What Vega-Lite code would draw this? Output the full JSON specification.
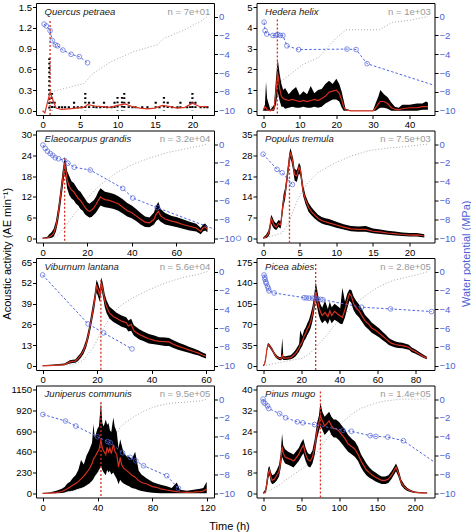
{
"$schema": "https://vega.github.io/schema/vega-lite/v6.json",
"padding": {"left": 0, "top": 1, "right": 0, "bottom": 0},
"config": {
 "font": "Liberation Sans",
 "view": {"stroke": "#000", "strokeWidth": 1},
 "axis": {"domain": false, "grid": false, "ticks": true, "tickColor": "#000", "tickSize": 3.5, "tickWidth": 1, "labelFont": "Liberation Sans", "labelFontSize": 9.5, "labelColor": "#000", "labelPadding": 1, "titleFont": "Liberation Sans", "titleFontSize": 11, "titleFontWeight": "normal", "titleColor": "#000", "labelFlush": false, "labelOverlap": false}
},
"datasets": {
 "meta": [
  {"p":"Q","name":"Quercus petraea","nl":"n = 7e+01","tpk":1.0,"ypk":1.3},
  {"p":"H","name":"Hedera helix","nl":"n = 1e+03","tpk":3.9,"ypk":4.4},
  {"p":"E","name":"Elaeocarpus grandis","nl":"n = 3.2e+04","tpk":9.9,"ypk":23},
  {"p":"PT","name":"Populus tremula","nl":"n = 7.5e+03","tpk":3.6,"ypk":27.5},
  {"p":"V","name":"Viburnum lantana","nl":"n = 5.6e+04","tpk":21.4,"ypk":54},
  {"p":"PA","name":"Picea abies","nl":"n = 2.8e+05","tpk":27.6,"ypk":172},
  {"p":"J","name":"Juniperus communis","nl":"n = 9.5e+05","tpk":42.5,"ypk":1013},
  {"p":"PM","name":"Pinus mugo","nl":"n = 1.4e+05","tpk":75.5,"ypk":39.3}
 ],
 "dots": [
  {"p":"Q","t":0.9,"hi":0.76},{"p":"Q","t":1.25,"hi":0.26},{"p":"Q","t":1.6,"hi":0.13},{"p":"Q","t":2.2,"hi":0.065},{"p":"Q","t":2.6,"hi":0.065},{"p":"Q","t":3.0,"hi":0.065},{"p":"Q","t":3.5,"hi":0.065},{"p":"Q","t":4.2,"hi":0.13},{"p":"Q","t":4.7,"hi":0.065},{"p":"Q","t":5.2,"hi":0.065},{"p":"Q","t":5.7,"hi":0.26},{"p":"Q","t":6.2,"hi":0.13},{"p":"Q","t":6.8,"hi":0.13},{"p":"Q","t":7.2,"hi":0.065},{"p":"Q","t":7.7,"hi":0.065},{"p":"Q","t":8.2,"hi":0.13},{"p":"Q","t":8.6,"hi":0.065},{"p":"Q","t":9.2,"hi":0.065},{"p":"Q","t":9.6,"hi":0.13},{"p":"Q","t":10.0,"hi":0.2},{"p":"Q","t":10.6,"hi":0.2},{"p":"Q","t":10.9,"hi":0.26},{"p":"Q","t":11.5,"hi":0.13},{"p":"Q","t":12.0,"hi":0.065},{"p":"Q","t":12.4,"hi":0.065},{"p":"Q","t":13.3,"hi":0.065},{"p":"Q","t":14.0,"hi":0.065},{"p":"Q","t":15.1,"hi":0.13},{"p":"Q","t":15.6,"hi":0.065},{"p":"Q","t":16.2,"hi":0.2},{"p":"Q","t":16.7,"hi":0.13},{"p":"Q","t":17.3,"hi":0.065},{"p":"Q","t":18.0,"hi":0.065},{"p":"Q","t":18.4,"hi":0.13},{"p":"Q","t":19.3,"hi":0.065},{"p":"Q","t":19.7,"hi":0.13},{"p":"Q","t":20.0,"hi":0.26},{"p":"Q","t":20.4,"hi":0.13},{"p":"Q","t":21.1,"hi":0.065},{"p":"Q","t":21.6,"hi":0.065},{"p":"Q","t":22.0,"hi":0.065}
 ],
 "act": [
  {"p":"Q","t":0,"m":0},{"p":"Q","t":0.3,"m":-0.03},{"p":"Q","t":0.6,"m":0.1},{"p":"Q","t":1,"m":0.27},{"p":"Q","t":1.4,"m":0.15},{"p":"Q","t":1.8,"m":0.04},{"p":"Q","t":2.5,"m":0.02},{"p":"Q","t":3.5,"m":0.03},{"p":"Q","t":4.5,"m":0.04},{"p":"Q","t":5.5,"m":0.05},{"p":"Q","t":6,"m":0.09},{"p":"Q","t":7,"m":0.07},{"p":"Q","t":8,"m":0.06},{"p":"Q","t":9,"m":0.05},{"p":"Q","t":10,"m":0.08},{"p":"Q","t":11,"m":0.1},{"p":"Q","t":12,"m":0.06},{"p":"Q","t":13,"m":0.04},{"p":"Q","t":14,"m":0.03},{"p":"Q","t":15,"m":0.04},{"p":"Q","t":16,"m":0.08},{"p":"Q","t":17,"m":0.06},{"p":"Q","t":18,"m":0.04},{"p":"Q","t":19,"m":0.05},{"p":"Q","t":20,"m":0.11},{"p":"Q","t":21,"m":0.06},{"p":"Q","t":22,"m":0.06},

  {"p":"H","t":0,"m":0,"lo":0,"hi":0.05},{"p":"H","t":0.5,"m":0.2,"lo":0,"hi":0.3},{"p":"H","t":0.8,"m":0.15,"lo":0,"hi":1.4},{"p":"H","t":1.1,"m":0.05,"lo":0,"hi":0.6},{"p":"H","t":2,"m":0,"lo":0,"hi":0.05},{"p":"H","t":3,"m":0.1,"lo":0,"hi":0.3},{"p":"H","t":3.5,"m":0.9,"lo":0.3,"hi":1.5},{"p":"H","t":4,"m":1.8,"lo":0.9,"hi":2.5},{"p":"H","t":4.5,"m":1.1,"lo":0.5,"hi":1.8},{"p":"H","t":5,"m":0.7,"lo":0.2,"hi":1.3},{"p":"H","t":5.5,"m":0.6,"lo":0.2,"hi":1.0},{"p":"H","t":6,"m":0.55,"lo":0.1,"hi":1.1},{"p":"H","t":7,"m":0.5,"lo":0.15,"hi":0.8},{"p":"H","t":8,"m":0.55,"lo":0.2,"hi":1.0},{"p":"H","t":9,"m":0.5,"lo":0.15,"hi":1.15},{"p":"H","t":10,"m":0.45,"lo":0.15,"hi":0.75},{"p":"H","t":11,"m":0.5,"lo":0.2,"hi":0.95},{"p":"H","t":12,"m":0.45,"lo":0.15,"hi":0.8},{"p":"H","t":13,"m":0.5,"lo":0.15,"hi":1.2},{"p":"H","t":14,"m":0.55,"lo":0.2,"hi":0.85},{"p":"H","t":15,"m":0.5,"lo":0.15,"hi":1.0},{"p":"H","t":16,"m":0.6,"lo":0.2,"hi":1.05},{"p":"H","t":17,"m":0.7,"lo":0.35,"hi":1.3},{"p":"H","t":18,"m":0.9,"lo":0.45,"hi":1.45},{"p":"H","t":19,"m":0.95,"lo":0.55,"hi":1.3},{"p":"H","t":20,"m":1.0,"lo":0.55,"hi":1.55},{"p":"H","t":20.8,"m":0.85,"lo":0.45,"hi":1.3},{"p":"H","t":21.5,"m":0.5,"lo":0.15,"hi":0.9},{"p":"H","t":22,"m":0.2,"lo":0,"hi":0.5},{"p":"H","t":22.5,"m":0.05,"lo":0,"hi":0.1},{"p":"H","t":24,"m":0,"lo":0,"hi":0.02},{"p":"H","t":30,"m":0,"lo":0,"hi":0.02},{"p":"H","t":30.8,"m":0.15,"lo":0,"hi":0.4},{"p":"H","t":31.5,"m":0.35,"lo":0.1,"hi":0.7},{"p":"H","t":32,"m":0.45,"lo":0.15,"hi":1.0},{"p":"H","t":33,"m":0.45,"lo":0.15,"hi":0.8},{"p":"H","t":34,"m":0.35,"lo":0.1,"hi":0.65},{"p":"H","t":35,"m":0.15,"lo":0,"hi":0.4},{"p":"H","t":36,"m":0.08,"lo":0,"hi":0.2},{"p":"H","t":37,"m":0.05,"lo":0,"hi":0.15},{"p":"H","t":38,"m":0.1,"lo":0,"hi":0.3},{"p":"H","t":40,"m":0.15,"lo":0,"hi":0.3},{"p":"H","t":42,"m":0.15,"lo":0,"hi":0.35},{"p":"H","t":43.5,"m":0.2,"lo":0.05,"hi":0.35},{"p":"H","t":44.5,"m":0.2,"lo":0.05,"hi":0.45},{"p":"H","t":45,"m":0.2,"lo":0.05,"hi":0.4},

  {"p":"E","t":0,"m":0,"lo":0,"hi":0.2},{"p":"E","t":2,"m":0.1,"lo":0,"hi":0.4},{"p":"E","t":3,"m":0.4,"lo":0,"hi":1.2},{"p":"E","t":4,"m":0.8,"lo":0.2,"hi":1.8},{"p":"E","t":5,"m":1.5,"lo":0.5,"hi":2.8},{"p":"E","t":6,"m":3.5,"lo":2,"hi":5},{"p":"E","t":7,"m":7,"lo":5,"hi":9},{"p":"E","t":8,"m":12,"lo":9.5,"hi":14},{"p":"E","t":9,"m":17,"lo":14.5,"hi":19.5},{"p":"E","t":9.9,"m":21.8,"lo":19,"hi":23.5},{"p":"E","t":10.5,"m":19.5,"lo":17,"hi":22},{"p":"E","t":11,"m":17,"lo":14.5,"hi":19.5},{"p":"E","t":12,"m":15,"lo":12.5,"hi":18},{"p":"E","t":13,"m":14,"lo":11.5,"hi":16.5},{"p":"E","t":14,"m":13.5,"lo":11,"hi":16},{"p":"E","t":15,"m":12.5,"lo":10,"hi":15},{"p":"E","t":16,"m":11.5,"lo":9.5,"hi":14},{"p":"E","t":17,"m":11,"lo":8.5,"hi":13.5},{"p":"E","t":18,"m":10,"lo":8,"hi":12.5},{"p":"E","t":19,"m":9,"lo":7,"hi":11.5},{"p":"E","t":20,"m":8.2,"lo":6.5,"hi":10.5},{"p":"E","t":21,"m":7.8,"lo":6,"hi":10},{"p":"E","t":22,"m":8.2,"lo":6.2,"hi":10.5},{"p":"E","t":23,"m":8.8,"lo":6.8,"hi":11},{"p":"E","t":24,"m":9.8,"lo":7.5,"hi":12},{"p":"E","t":25,"m":11,"lo":8.5,"hi":13.5},{"p":"E","t":26,"m":12,"lo":9.5,"hi":14.5},{"p":"E","t":27,"m":11.5,"lo":9.2,"hi":14},{"p":"E","t":28,"m":11.2,"lo":9,"hi":13.5},{"p":"E","t":30,"m":11,"lo":8.8,"hi":13.2},{"p":"E","t":32,"m":10.5,"lo":8.5,"hi":12.8},{"p":"E","t":34,"m":10,"lo":8,"hi":12.2},{"p":"E","t":36,"m":9,"lo":7.2,"hi":11.3},{"p":"E","t":38,"m":8,"lo":6.3,"hi":10.2},{"p":"E","t":40,"m":7.5,"lo":5.8,"hi":9.5},{"p":"E","t":42,"m":6.5,"lo":5,"hi":8.5},{"p":"E","t":44,"m":5.5,"lo":4,"hi":7.3},{"p":"E","t":46,"m":4.7,"lo":3.3,"hi":6.3},{"p":"E","t":48,"m":4.5,"lo":3.2,"hi":6},{"p":"E","t":50,"m":5.5,"lo":4,"hi":7.5},{"p":"E","t":51,"m":7,"lo":5,"hi":9.5},{"p":"E","t":52,"m":7.8,"lo":5.5,"hi":10.5},{"p":"E","t":53,"m":6.5,"lo":4.8,"hi":8.5},{"p":"E","t":55,"m":5.6,"lo":4,"hi":7.3},{"p":"E","t":58,"m":5,"lo":3.6,"hi":6.5},{"p":"E","t":60,"m":4.7,"lo":3.3,"hi":6.2},{"p":"E","t":63,"m":4,"lo":2.8,"hi":5.5},{"p":"E","t":66,"m":3.5,"lo":2.3,"hi":4.8},{"p":"E","t":69,"m":3,"lo":2,"hi":4.2},{"p":"E","t":71,"m":2,"lo":1.2,"hi":3},{"p":"E","t":72,"m":3,"lo":2,"hi":4},{"p":"E","t":73,"m":3.3,"lo":2.3,"hi":4.3},{"p":"E","t":74,"m":2.6,"lo":1.8,"hi":3.5},

  {"p":"PT","t":0,"m":0,"lo":0,"hi":0.3},{"p":"PT","t":0.4,"m":0.5,"lo":0,"hi":1.2},{"p":"PT","t":0.7,"m":1.5,"lo":0.5,"hi":2.5},{"p":"PT","t":0.9,"m":3,"lo":1.5,"hi":4.5},{"p":"PT","t":1.1,"m":7,"lo":5,"hi":8},{"p":"PT","t":1.3,"m":5.5,"lo":4,"hi":7},{"p":"PT","t":1.5,"m":4.5,"lo":3.2,"hi":5.8},{"p":"PT","t":1.8,"m":3.8,"lo":2.8,"hi":5},{"p":"PT","t":2.1,"m":5,"lo":3.8,"hi":6.2},{"p":"PT","t":2.4,"m":4.5,"lo":3.3,"hi":5.8},{"p":"PT","t":2.6,"m":9,"lo":7,"hi":11},{"p":"PT","t":2.8,"m":13,"lo":11,"hi":15},{"p":"PT","t":3.0,"m":15,"lo":13,"hi":17},{"p":"PT","t":3.2,"m":19,"lo":17,"hi":21},{"p":"PT","t":3.4,"m":23,"lo":21,"hi":25},{"p":"PT","t":3.6,"m":27,"lo":25,"hi":29},{"p":"PT","t":3.75,"m":29,"lo":27,"hi":30.5},{"p":"PT","t":3.9,"m":27.5,"lo":25.5,"hi":29},{"p":"PT","t":4.1,"m":25,"lo":23,"hi":27},{"p":"PT","t":4.3,"m":21.5,"lo":19.5,"hi":23.5},{"p":"PT","t":4.6,"m":21,"lo":19,"hi":23},{"p":"PT","t":4.9,"m":24,"lo":22,"hi":25.5},{"p":"PT","t":5.1,"m":23,"lo":21,"hi":24.5},{"p":"PT","t":5.3,"m":19,"lo":17,"hi":21},{"p":"PT","t":5.5,"m":15.5,"lo":14,"hi":17.5},{"p":"PT","t":5.8,"m":13,"lo":11.5,"hi":14.5},{"p":"PT","t":6.2,"m":10.5,"lo":9,"hi":12},{"p":"PT","t":6.6,"m":9,"lo":7.8,"hi":10.5},{"p":"PT","t":7.0,"m":8,"lo":6.8,"hi":9.3},{"p":"PT","t":7.5,"m":6.8,"lo":5.8,"hi":8},{"p":"PT","t":8.0,"m":6,"lo":5,"hi":7.2},{"p":"PT","t":8.5,"m":5.6,"lo":4.6,"hi":6.8},{"p":"PT","t":9,"m":5.2,"lo":4.3,"hi":6.5},{"p":"PT","t":10,"m":4.5,"lo":3.6,"hi":5.6},{"p":"PT","t":11,"m":3.8,"lo":3,"hi":4.8},{"p":"PT","t":12,"m":3.2,"lo":2.4,"hi":4.2},{"p":"PT","t":13,"m":3,"lo":2.2,"hi":4},{"p":"PT","t":14,"m":3,"lo":2.2,"hi":4.2},{"p":"PT","t":15,"m":2.4,"lo":1.7,"hi":3.3},{"p":"PT","t":16,"m":2.2,"lo":1.5,"hi":3},{"p":"PT","t":17,"m":1.8,"lo":1.2,"hi":2.6},{"p":"PT","t":18,"m":1.6,"lo":1,"hi":2.3},{"p":"PT","t":19,"m":1.3,"lo":0.8,"hi":2},{"p":"PT","t":20,"m":1.1,"lo":0.6,"hi":1.8},{"p":"PT","t":21,"m":1.2,"lo":0.6,"hi":1.8},{"p":"PT","t":22,"m":0.8,"lo":0.3,"hi":1.4},

  {"p":"V","t":0,"m":0,"lo":0,"hi":0.3},{"p":"V","t":4,"m":0.3,"lo":0,"hi":0.8},{"p":"V","t":8,"m":0.8,"lo":0.3,"hi":1.5},{"p":"V","t":10,"m":2.5,"lo":1.5,"hi":3.5},{"p":"V","t":11,"m":2.8,"lo":1.8,"hi":3.8},{"p":"V","t":12,"m":3,"lo":2,"hi":4},{"p":"V","t":13,"m":4.5,"lo":3,"hi":6},{"p":"V","t":14,"m":6.5,"lo":5,"hi":8},{"p":"V","t":15,"m":9.5,"lo":7.5,"hi":11.5},{"p":"V","t":16,"m":14,"lo":11.5,"hi":16.5},{"p":"V","t":17,"m":21,"lo":18,"hi":24},{"p":"V","t":18,"m":30,"lo":26.5,"hi":34},{"p":"V","t":19,"m":40,"lo":36,"hi":44},{"p":"V","t":19.8,"m":50,"lo":46,"hi":54},{"p":"V","t":20.3,"m":48,"lo":44,"hi":52},{"p":"V","t":21,"m":44,"lo":40,"hi":48},{"p":"V","t":21.6,"m":52,"lo":48,"hi":55.5},{"p":"V","t":22.2,"m":47,"lo":43,"hi":51},{"p":"V","t":22.8,"m":41,"lo":37,"hi":45},{"p":"V","t":23.5,"m":37,"lo":33,"hi":41},{"p":"V","t":24.6,"m":33,"lo":29.5,"hi":37},{"p":"V","t":26,"m":31,"lo":27.5,"hi":35},{"p":"V","t":27,"m":30,"lo":26.5,"hi":33.5},{"p":"V","t":29,"m":28,"lo":24.5,"hi":31.5},{"p":"V","t":30.7,"m":27,"lo":23.5,"hi":30.5},{"p":"V","t":31.5,"m":25,"lo":21.5,"hi":28.5},{"p":"V","t":32.5,"m":26,"lo":22,"hi":29.5},{"p":"V","t":33.5,"m":22,"lo":19,"hi":25.5},{"p":"V","t":35.5,"m":19.6,"lo":16.5,"hi":23},{"p":"V","t":37,"m":18.5,"lo":15.5,"hi":21.5},{"p":"V","t":39,"m":17,"lo":14,"hi":20},{"p":"V","t":41,"m":16,"lo":13.5,"hi":19},{"p":"V","t":42.8,"m":15.4,"lo":13,"hi":18},{"p":"V","t":45,"m":15.2,"lo":12.5,"hi":17.8},{"p":"V","t":46.4,"m":15,"lo":12.5,"hi":17.5},{"p":"V","t":48,"m":13.5,"lo":11.2,"hi":16},{"p":"V","t":50,"m":12.2,"lo":10,"hi":14.5},{"p":"V","t":52,"m":11,"lo":9,"hi":13.2},{"p":"V","t":53.7,"m":10,"lo":8.2,"hi":12},{"p":"V","t":55.5,"m":9,"lo":7.3,"hi":10.8},{"p":"V","t":57.3,"m":8,"lo":6.5,"hi":9.7},{"p":"V","t":58.5,"m":7,"lo":5.6,"hi":8.6},{"p":"V","t":60,"m":6,"lo":4.6,"hi":7.4},

  {"p":"PA","t":0,"m":0,"lo":0,"hi":1},{"p":"PA","t":0.8,"m":3,"lo":1,"hi":5},{"p":"PA","t":1.4,"m":13,"lo":10,"hi":16},{"p":"PA","t":2,"m":28,"lo":25,"hi":31},{"p":"PA","t":2.6,"m":36,"lo":33,"hi":38.5},{"p":"PA","t":3.2,"m":35,"lo":32,"hi":37.5},{"p":"PA","t":4,"m":31,"lo":28,"hi":34},{"p":"PA","t":5,"m":26,"lo":23,"hi":29},{"p":"PA","t":5.8,"m":21,"lo":18,"hi":24},{"p":"PA","t":6.6,"m":17,"lo":14,"hi":20},{"p":"PA","t":7.5,"m":14,"lo":11.5,"hi":17},{"p":"PA","t":8.5,"m":12.5,"lo":10,"hi":15},{"p":"PA","t":9.3,"m":12,"lo":9.5,"hi":15},{"p":"PA","t":10.1,"m":18,"lo":12,"hi":47},{"p":"PA","t":10.6,"m":13,"lo":10,"hi":16},{"p":"PA","t":11.9,"m":13,"lo":10,"hi":16},{"p":"PA","t":13,"m":13.5,"lo":10.5,"hi":17},{"p":"PA","t":14.5,"m":14,"lo":11,"hi":18},{"p":"PA","t":15.8,"m":17,"lo":13,"hi":22},{"p":"PA","t":17.1,"m":21,"lo":16,"hi":27},{"p":"PA","t":18.9,"m":30,"lo":24,"hi":37},{"p":"PA","t":19.5,"m":35,"lo":28,"hi":60},{"p":"PA","t":20.6,"m":41,"lo":34,"hi":50},{"p":"PA","t":21.5,"m":50,"lo":42,"hi":60},{"p":"PA","t":22.4,"m":55,"lo":46,"hi":65},{"p":"PA","t":23.2,"m":62,"lo":52,"hi":72},{"p":"PA","t":24.1,"m":67,"lo":57,"hi":78},{"p":"PA","t":25,"m":75,"lo":64,"hi":88},{"p":"PA","t":25.9,"m":87,"lo":75,"hi":100},{"p":"PA","t":26.8,"m":105,"lo":92,"hi":118},{"p":"PA","t":27.6,"m":125,"lo":110,"hi":141},{"p":"PA","t":28.3,"m":115,"lo":100,"hi":130},{"p":"PA","t":29.2,"m":100,"lo":86,"hi":113},{"p":"PA","t":30,"m":92,"lo":78,"hi":105},{"p":"PA","t":31,"m":85,"lo":72,"hi":98},{"p":"PA","t":32.5,"m":90,"lo":77,"hi":110},{"p":"PA","t":34,"m":83,"lo":70,"hi":96},{"p":"PA","t":35,"m":93,"lo":79,"hi":108},{"p":"PA","t":36,"m":85,"lo":72,"hi":99},{"p":"PA","t":37.5,"m":92,"lo":78,"hi":105},{"p":"PA","t":39,"m":88,"lo":75,"hi":101},{"p":"PA","t":40.5,"m":84,"lo":71,"hi":97},{"p":"PA","t":41.6,"m":82,"lo":70,"hi":132},{"p":"PA","t":43,"m":95,"lo":82,"hi":108},{"p":"PA","t":44.2,"m":110,"lo":97,"hi":122},{"p":"PA","t":45.3,"m":122,"lo":110,"hi":129},{"p":"PA","t":46.3,"m":118,"lo":106,"hi":128},{"p":"PA","t":47.5,"m":105,"lo":94,"hi":117},{"p":"PA","t":48.8,"m":98,"lo":87,"hi":110},{"p":"PA","t":50.3,"m":93,"lo":82,"hi":104},{"p":"PA","t":52,"m":84,"lo":74,"hi":95},{"p":"PA","t":53.5,"m":76,"lo":67,"hi":86},{"p":"PA","t":55.5,"m":70,"lo":61,"hi":79},{"p":"PA","t":57,"m":64,"lo":56,"hi":73},{"p":"PA","t":59,"m":60,"lo":52,"hi":68},{"p":"PA","t":61,"m":55,"lo":48,"hi":63},{"p":"PA","t":62.8,"m":50,"lo":43,"hi":57},{"p":"PA","t":64.3,"m":46,"lo":40,"hi":53},{"p":"PA","t":66,"m":41,"lo":35,"hi":47},{"p":"PA","t":67.5,"m":38,"lo":33,"hi":44},{"p":"PA","t":69.5,"m":36,"lo":31,"hi":41},{"p":"PA","t":71,"m":35,"lo":30,"hi":40},{"p":"PA","t":73,"m":34,"lo":29.5,"hi":39},{"p":"PA","t":74.8,"m":33,"lo":28.5,"hi":37.5},{"p":"PA","t":76.5,"m":31,"lo":27,"hi":35.5},{"p":"PA","t":78,"m":27,"lo":23,"hi":31},{"p":"PA","t":80,"m":24,"lo":20.5,"hi":27.5},{"p":"PA","t":82,"m":20,"lo":17,"hi":23.5},{"p":"PA","t":84,"m":16,"lo":13.5,"hi":19},{"p":"PA","t":86,"m":13,"lo":11,"hi":15.5},

  {"p":"J","t":0,"m":0,"lo":0,"hi":5},{"p":"J","t":5,"m":3,"lo":0,"hi":10},{"p":"J","t":10,"m":8,"lo":0,"hi":30},{"p":"J","t":14,"m":20,"lo":5,"hi":50},{"p":"J","t":16,"m":35,"lo":10,"hi":70},{"p":"J","t":18,"m":50,"lo":20,"hi":110},{"p":"J","t":20,"m":70,"lo":25,"hi":130},{"p":"J","t":22,"m":90,"lo":30,"hi":170},{"p":"J","t":24,"m":110,"lo":40,"hi":200},{"p":"J","t":26,"m":130,"lo":50,"hi":260},{"p":"J","t":28,"m":160,"lo":60,"hi":370},{"p":"J","t":30,"m":190,"lo":70,"hi":320},{"p":"J","t":32,"m":230,"lo":90,"hi":420},{"p":"J","t":34,"m":270,"lo":110,"hi":480},{"p":"J","t":36,"m":330,"lo":140,"hi":560},{"p":"J","t":37,"m":380,"lo":160,"hi":770},{"p":"J","t":38,"m":400,"lo":190,"hi":620},{"p":"J","t":40,"m":460,"lo":230,"hi":720},{"p":"J","t":41,"m":480,"lo":260,"hi":740},{"p":"J","t":42.5,"m":590,"lo":300,"hi":1010},{"p":"J","t":43.5,"m":500,"lo":260,"hi":780},{"p":"J","t":44.5,"m":470,"lo":230,"hi":740},{"p":"J","t":46,"m":430,"lo":200,"hi":820},{"p":"J","t":47,"m":510,"lo":260,"hi":760},{"p":"J","t":48,"m":460,"lo":230,"hi":780},{"p":"J","t":49,"m":500,"lo":250,"hi":700},{"p":"J","t":50,"m":440,"lo":210,"hi":680},{"p":"J","t":51.5,"m":540,"lo":230,"hi":840},{"p":"J","t":52.5,"m":470,"lo":200,"hi":740},{"p":"J","t":54,"m":430,"lo":160,"hi":680},{"p":"J","t":55.3,"m":290,"lo":100,"hi":500},{"p":"J","t":56.5,"m":400,"lo":150,"hi":600},{"p":"J","t":57.5,"m":320,"lo":130,"hi":540},{"p":"J","t":59,"m":280,"lo":110,"hi":450},{"p":"J","t":61.3,"m":252,"lo":90,"hi":410},{"p":"J","t":63,"m":230,"lo":80,"hi":410},{"p":"J","t":65,"m":200,"lo":60,"hi":380},{"p":"J","t":67.4,"m":180,"lo":50,"hi":460},{"p":"J","t":70,"m":141,"lo":35,"hi":250},{"p":"J","t":72,"m":120,"lo":25,"hi":210},{"p":"J","t":75.9,"m":104,"lo":15,"hi":165},{"p":"J","t":80,"m":75,"lo":8,"hi":125},{"p":"J","t":83,"m":67,"lo":5,"hi":110},{"p":"J","t":86,"m":50,"lo":0,"hi":95},{"p":"J","t":90.4,"m":37,"lo":0,"hi":80},{"p":"J","t":94,"m":28,"lo":0,"hi":60},{"p":"J","t":97.7,"m":18.5,"lo":0,"hi":120},{"p":"J","t":100,"m":15,"lo":0,"hi":40},{"p":"J","t":105,"m":11,"lo":0,"hi":30},{"p":"J","t":110,"m":13,"lo":0,"hi":40},{"p":"J","t":114.7,"m":18.5,"lo":0,"hi":50},{"p":"J","t":117,"m":25,"lo":0,"hi":60},{"p":"J","t":119.5,"m":48,"lo":0,"hi":130},

  {"p":"PM","t":0,"m":0,"lo":0,"hi":0.3},{"p":"PM","t":3,"m":0.5,"lo":0,"hi":1.5},{"p":"PM","t":5,"m":4,"lo":2,"hi":6},{"p":"PM","t":7,"m":8,"lo":6,"hi":10},{"p":"PM","t":8.5,"m":9,"lo":7,"hi":10.5},{"p":"PM","t":10,"m":6.5,"lo":4.5,"hi":8.5},{"p":"PM","t":12,"m":5,"lo":3.5,"hi":7},{"p":"PM","t":15,"m":5.5,"lo":4,"hi":7.5},{"p":"PM","t":18,"m":7,"lo":5,"hi":9},{"p":"PM","t":21,"m":8.5,"lo":6.5,"hi":11},{"p":"PM","t":23,"m":12,"lo":9.5,"hi":15},{"p":"PM","t":25,"m":18,"lo":14,"hi":23},{"p":"PM","t":26.5,"m":15.5,"lo":13,"hi":18.5},{"p":"PM","t":29,"m":14,"lo":11.5,"hi":17},{"p":"PM","t":33,"m":13.5,"lo":11,"hi":16},{"p":"PM","t":37,"m":13,"lo":10.5,"hi":15.5},{"p":"PM","t":40,"m":12.5,"lo":10,"hi":15},{"p":"PM","t":43,"m":13.5,"lo":11,"hi":16},{"p":"PM","t":47,"m":15,"lo":12.5,"hi":17.5},{"p":"PM","t":50,"m":17,"lo":14,"hi":19.5},{"p":"PM","t":53,"m":18.5,"lo":15.5,"hi":21},{"p":"PM","t":56,"m":15,"lo":12.5,"hi":17.5},{"p":"PM","t":59,"m":13,"lo":10.5,"hi":15.5},{"p":"PM","t":62,"m":12.5,"lo":10,"hi":15},{"p":"PM","t":65,"m":14,"lo":11.5,"hi":16.5},{"p":"PM","t":68,"m":18,"lo":15,"hi":21},{"p":"PM","t":71,"m":24,"lo":21,"hi":27},{"p":"PM","t":73.5,"m":27,"lo":24,"hi":30},{"p":"PM","t":75.5,"m":30,"lo":26,"hi":35},{"p":"PM","t":78,"m":28,"lo":24.5,"hi":31.5},{"p":"PM","t":81,"m":26,"lo":22.5,"hi":29.5},{"p":"PM","t":84,"m":27,"lo":23.5,"hi":30.5},{"p":"PM","t":87,"m":28,"lo":24.5,"hi":31.5},{"p":"PM","t":90,"m":26,"lo":22.5,"hi":29.5},{"p":"PM","t":93,"m":25,"lo":21.5,"hi":28.5},{"p":"PM","t":96,"m":25,"lo":21.5,"hi":28.5},{"p":"PM","t":100,"m":24,"lo":20.5,"hi":27.5},{"p":"PM","t":104,"m":22.5,"lo":19,"hi":26},{"p":"PM","t":108,"m":21,"lo":17.5,"hi":24.5},{"p":"PM","t":112,"m":19,"lo":16,"hi":22.5},{"p":"PM","t":117,"m":18,"lo":15,"hi":21},{"p":"PM","t":121,"m":17,"lo":14,"hi":20},{"p":"PM","t":125,"m":15,"lo":12.5,"hi":18},{"p":"PM","t":129,"m":12.5,"lo":10,"hi":15},{"p":"PM","t":132,"m":11,"lo":8.5,"hi":13.5},{"p":"PM","t":136,"m":9,"lo":7,"hi":11.5},{"p":"PM","t":140,"m":8,"lo":6,"hi":10},{"p":"PM","t":144,"m":7,"lo":5.3,"hi":8.8},{"p":"PM","t":148,"m":6.2,"lo":4.6,"hi":8},{"p":"PM","t":152,"m":5.6,"lo":4.1,"hi":7.2},{"p":"PM","t":156,"m":5,"lo":3.6,"hi":6.5},{"p":"PM","t":161,"m":5,"lo":3.6,"hi":6.5},{"p":"PM","t":165,"m":5.5,"lo":4,"hi":7},{"p":"PM","t":169,"m":7,"lo":5.5,"hi":8.5},{"p":"PM","t":172,"m":8.5,"lo":7,"hi":10},{"p":"PM","t":175,"m":10,"lo":8.5,"hi":11.5},{"p":"PM","t":178,"m":8,"lo":6.5,"hi":9.5},{"p":"PM","t":182,"m":4,"lo":3,"hi":5.2},{"p":"PM","t":186,"m":2.5,"lo":1.7,"hi":3.3},{"p":"PM","t":190,"m":1.5,"lo":0.9,"hi":2.1},{"p":"PM","t":195,"m":0.8,"lo":0.4,"hi":1.2},{"p":"PM","t":200,"m":0.4,"lo":0.1,"hi":0.7},{"p":"PM","t":208,"m":0.2,"lo":0,"hi":0.4},{"p":"PM","t":216,"m":0.1,"lo":0,"hi":0.3}
 ],
 "wp": [
  {"p":"Q","t":0.2,"wp":-0.8,"o":true},{"p":"Q","t":0.5,"wp":-1.0,"o":true},{"p":"Q","t":1.0,"wp":-1.5,"o":true},{"p":"Q","t":1.3,"wp":-2.55,"o":true},{"p":"Q","t":1.7,"wp":-3.0,"o":true},{"p":"Q","t":2.0,"wp":-3.1,"o":true},{"p":"Q","t":2.7,"wp":-3.55,"o":true},{"p":"Q","t":3.8,"wp":-4.0,"o":true},{"p":"Q","t":4.9,"wp":-4.25,"o":true},{"p":"Q","t":6.0,"wp":-4.9,"o":true},
  {"p":"H","t":0.27,"wp":-0.6,"o":true},{"p":"H","t":0.55,"wp":-1.5,"o":true},{"p":"H","t":1.0,"wp":-1.85,"o":true},{"p":"H","t":2.7,"wp":-2.0,"o":true},{"p":"H","t":3.5,"wp":-2.0,"o":true},{"p":"H","t":4.0,"wp":-1.9,"o":true},{"p":"H","t":4.7,"wp":-2.0,"o":true},{"p":"H","t":5.4,"wp":-2.0,"o":true},{"p":"H","t":6.5,"wp":-3.1,"o":true},{"p":"H","t":9.7,"wp":-3.5,"o":true},{"p":"H","t":22.9,"wp":-3.45,"o":true},{"p":"H","t":25.4,"wp":-3.5,"o":true},{"p":"H","t":28.4,"wp":-5.0,"o":true},{"p":"H","t":48,"wp":-7.45,"o":false},
  {"p":"E","t":0.15,"wp":-0.1,"o":true},{"p":"E","t":1.2,"wp":-0.47,"o":true},{"p":"E","t":2.2,"wp":-0.76,"o":true},{"p":"E","t":3.4,"wp":-1.0,"o":true},{"p":"E","t":4.6,"wp":-1.2,"o":true},{"p":"E","t":5.7,"wp":-1.45,"o":true},{"p":"E","t":7.2,"wp":-1.56,"o":true},{"p":"E","t":9.9,"wp":-1.74,"o":true},{"p":"E","t":11.4,"wp":-2.03,"o":true},{"p":"E","t":14.2,"wp":-2.46,"o":true},{"p":"E","t":21.4,"wp":-2.75,"o":true},{"p":"E","t":36,"wp":-4.7,"o":true},{"p":"E","t":40.5,"wp":-5.72,"o":true},{"p":"E","t":51.4,"wp":-6.74,"o":true},{"p":"E","t":88,"wp":-10,"o":true},
  {"p":"PT","t":0,"wp":-1.07,"o":true},{"p":"PT","t":1.9,"wp":-2.68,"o":true},{"p":"PT","t":2.6,"wp":-3.04,"o":true},{"p":"PT","t":4.0,"wp":-4.29,"o":true},
  {"p":"V","t":0,"wp":-0.36,"o":true},{"p":"V","t":16.7,"wp":-5.55,"o":true},{"p":"V","t":22.4,"wp":-6.5,"o":true},{"p":"V","t":32.8,"wp":-8.2,"o":true},
  {"p":"PA","t":0.5,"wp":-0.36,"o":true},{"p":"PA","t":0.9,"wp":-0.6,"o":true},{"p":"PA","t":1.0,"wp":-0.83,"o":true},{"p":"PA","t":1.4,"wp":-1.08,"o":true},{"p":"PA","t":1.7,"wp":-1.26,"o":true},{"p":"PA","t":2.3,"wp":-1.55,"o":true},{"p":"PA","t":2.8,"wp":-1.8,"o":true},{"p":"PA","t":3.1,"wp":-2.05,"o":true},{"p":"PA","t":5.8,"wp":-2.27,"o":true},{"p":"PA","t":21.5,"wp":-2.77,"o":true},{"p":"PA","t":22.7,"wp":-2.8,"o":true},{"p":"PA","t":24.1,"wp":-2.82,"o":true},{"p":"PA","t":25.9,"wp":-2.82,"o":true},{"p":"PA","t":27.2,"wp":-2.82,"o":true},{"p":"PA","t":28.5,"wp":-2.88,"o":true},{"p":"PA","t":30.2,"wp":-2.95,"o":true},{"p":"PA","t":31.4,"wp":-2.99,"o":true},{"p":"PA","t":51.7,"wp":-3.78,"o":true},{"p":"PA","t":66.9,"wp":-3.96,"o":true},{"p":"PA","t":88.4,"wp":-4.24,"o":true},
  {"p":"J","t":0.2,"wp":-1.63,"o":true},{"p":"J","t":16.7,"wp":-2.33,"o":true},{"p":"J","t":24.2,"wp":-2.86,"o":true},{"p":"J","t":40,"wp":-4.0,"o":true},{"p":"J","t":47.3,"wp":-4.5,"o":true},{"p":"J","t":49.2,"wp":-4.63,"o":true},{"p":"J","t":58.2,"wp":-5.69,"o":true},{"p":"J","t":63.8,"wp":-6.18,"o":true},{"p":"J","t":67.9,"wp":-6.54,"o":true},{"p":"J","t":73.5,"wp":-7.07,"o":true},{"p":"J","t":90.4,"wp":-8.13,"o":true},{"p":"J","t":98.9,"wp":-9.47,"o":true},
  {"p":"PM","t":0,"wp":0.0,"o":true},{"p":"PM","t":0.4,"wp":-0.29,"o":true},{"p":"PM","t":2.6,"wp":-0.47,"o":true},{"p":"PM","t":5.7,"wp":-0.72,"o":true},{"p":"PM","t":7.4,"wp":-1.0,"o":true},{"p":"PM","t":21.8,"wp":-1.55,"o":true},{"p":"PM","t":29.7,"wp":-1.98,"o":true},{"p":"PM","t":45,"wp":-2.41,"o":true},{"p":"PM","t":52.4,"wp":-2.52,"o":true},{"p":"PM","t":67.7,"wp":-2.7,"o":true},{"p":"PM","t":105.2,"wp":-3.31,"o":true},{"p":"PM","t":116.2,"wp":-3.42,"o":true},{"p":"PM","t":141,"wp":-3.88,"o":true},{"p":"PM","t":148.5,"wp":-3.96,"o":true},{"p":"PM","t":164.2,"wp":-4.03,"o":true},{"p":"PM","t":184.7,"wp":-4.42,"o":true},{"p":"PM","t":230,"wp":-6.93,"o":false}
 ],
 "cum": [
  {"p":"Q","t":0,"f":0},{"p":"Q","t":0.8,"f":0.02},{"p":"Q","t":1.1,"f":0.2},{"p":"Q","t":5.5,"f":0.29},{"p":"Q","t":6.8,"f":0.4},{"p":"Q","t":9.1,"f":0.52},{"p":"Q","t":12.2,"f":0.63},{"p":"Q","t":15.3,"f":0.7},{"p":"Q","t":16.2,"f":0.77},{"p":"Q","t":18.4,"f":0.84},{"p":"Q","t":19.3,"f":0.875},{"p":"Q","t":21.1,"f":0.95},{"p":"Q","t":22,"f":1.0},
  {"p":"H","t":0,"f":0},{"p":"H","t":1,"f":0.03},{"p":"H","t":3.3,"f":0.05},{"p":"H","t":4.5,"f":0.3},{"p":"H","t":10.8,"f":0.49},{"p":"H","t":15.3,"f":0.57},{"p":"H","t":19.9,"f":0.77},{"p":"H","t":22.6,"f":0.86},{"p":"H","t":31.8,"f":0.86},{"p":"H","t":35.4,"f":0.94},{"p":"H","t":40,"f":0.96},{"p":"H","t":45,"f":1.0},
  {"p":"E","t":0,"f":0},{"p":"E","t":5,"f":0.01},{"p":"E","t":7,"f":0.04},{"p":"E","t":10,"f":0.12},{"p":"E","t":13,"f":0.22},{"p":"E","t":15.4,"f":0.29},{"p":"E","t":21.4,"f":0.46},{"p":"E","t":26,"f":0.57},{"p":"E","t":33.4,"f":0.7},{"p":"E","t":41,"f":0.79},{"p":"E","t":48.4,"f":0.855},{"p":"E","t":56,"f":0.91},{"p":"E","t":63.4,"f":0.946},{"p":"E","t":71,"f":0.982},{"p":"E","t":74,"f":1.0},
  {"p":"PT","t":0,"f":0},{"p":"PT","t":1.5,"f":0.03},{"p":"PT","t":2.6,"f":0.06},{"p":"PT","t":3.5,"f":0.16},{"p":"PT","t":4.7,"f":0.41},{"p":"PT","t":5.9,"f":0.57},{"p":"PT","t":7.5,"f":0.7},{"p":"PT","t":9.8,"f":0.8},{"p":"PT","t":12.1,"f":0.875},{"p":"PT","t":14.4,"f":0.93},{"p":"PT","t":16.7,"f":0.955},{"p":"PT","t":19,"f":0.97},{"p":"PT","t":22.5,"f":1.0},
  {"p":"V","t":0,"f":0},{"p":"V","t":10,"f":0.01},{"p":"V","t":13,"f":0.03},{"p":"V","t":14.9,"f":0.06},{"p":"V","t":18.5,"f":0.19},{"p":"V","t":21,"f":0.33},{"p":"V","t":24.6,"f":0.51},{"p":"V","t":28.2,"f":0.63},{"p":"V","t":33,"f":0.72},{"p":"V","t":39.2,"f":0.81},{"p":"V","t":45.2,"f":0.88},{"p":"V","t":51.3,"f":0.936},{"p":"V","t":57.3,"f":0.972},{"p":"V","t":60.5,"f":1.0},
  {"p":"PA","t":0,"f":0},{"p":"PA","t":5,"f":0.02},{"p":"PA","t":10,"f":0.04},{"p":"PA","t":15,"f":0.06},{"p":"PA","t":20.6,"f":0.08},{"p":"PA","t":25,"f":0.14},{"p":"PA","t":29.3,"f":0.23},{"p":"PA","t":34,"f":0.34},{"p":"PA","t":38,"f":0.44},{"p":"PA","t":42,"f":0.54},{"p":"PA","t":46.8,"f":0.62},{"p":"PA","t":51,"f":0.7},{"p":"PA","t":55.5,"f":0.77},{"p":"PA","t":60,"f":0.83},{"p":"PA","t":64.3,"f":0.874},{"p":"PA","t":69,"f":0.91},{"p":"PA","t":73,"f":0.928},{"p":"PA","t":77,"f":0.95},{"p":"PA","t":81.7,"f":0.97},{"p":"PA","t":86.5,"f":1.0},
  {"p":"J","t":0,"f":0},{"p":"J","t":15,"f":0.01},{"p":"J","t":20,"f":0.02},{"p":"J","t":25,"f":0.04},{"p":"J","t":30,"f":0.07},{"p":"J","t":35,"f":0.12},{"p":"J","t":40,"f":0.22},{"p":"J","t":45,"f":0.35},{"p":"J","t":50,"f":0.5},{"p":"J","t":53,"f":0.6},{"p":"J","t":56.5,"f":0.7},{"p":"J","t":60,"f":0.75},{"p":"J","t":66.2,"f":0.81},{"p":"J","t":72,"f":0.86},{"p":"J","t":78.3,"f":0.9},{"p":"J","t":84,"f":0.93},{"p":"J","t":90.4,"f":0.947},{"p":"J","t":96,"f":0.96},{"p":"J","t":102.5,"f":0.965},{"p":"J","t":110,"f":0.975},{"p":"J","t":114.7,"f":0.98},{"p":"J","t":120,"f":1.0},
  {"p":"PM","t":0,"f":0},{"p":"PM","t":8,"f":0.03},{"p":"PM","t":20,"f":0.08},{"p":"PM","t":29.7,"f":0.14},{"p":"PM","t":40,"f":0.2},{"p":"PM","t":51.5,"f":0.26},{"p":"PM","t":60,"f":0.32},{"p":"PM","t":73.4,"f":0.46},{"p":"PM","t":85,"f":0.59},{"p":"PM","t":95.2,"f":0.68},{"p":"PM","t":105,"f":0.76},{"p":"PM","t":117,"f":0.84},{"p":"PM","t":128,"f":0.9},{"p":"PM","t":138.9,"f":0.93},{"p":"PM","t":150,"f":0.96},{"p":"PM","t":160.7,"f":0.98},{"p":"PM","t":172,"f":0.99},{"p":"PM","t":182.5,"f":1.0},{"p":"PM","t":216,"f":1.0}
 ]
},
"columns": 2,
"spacing": {"row": 15.5, "column": 42.5},
"bounds": "flush",
"concat": [
 {"width":178,"height":112,
  "layer":[
   {"data":{"name":"cum"},"transform":[{"filter":"datum.p=='Q'"}],"mark":{"type":"line","clip":true,"color":"#aaaaaa","strokeWidth":1,"strokeDash":[1,2]},"encoding":{"x":{"field":"t","type":"quantitative","scale":{"domain":[-0.88,22.88],"nice":false,"zero":false},"axis":{"values":[0,5,10,15,20],"title":null,"labelOverlap":false}},"y":{"field":"f","type":"quantitative","scale":{"domain":[-0.044,1.144],"nice":false,"zero":false},"axis":null}}},
   {"data":{"name":"dots"},"transform":[{"filter":"datum.p=='Q'"}],"mark":{"type":"rule","color":"#000","strokeWidth":2.2,"strokeDash":[1.8,2.6]},"encoding":{"x":{"field":"t","type":"quantitative","scale":{"domain":[-0.88,22.88],"nice":false,"zero":false}},"y":{"field":"hi","type":"quantitative","scale":{"domain":[-0.06,1.56],"nice":false,"zero":false},"axis":{"orient":"left","values":[0,0.3,0.6,0.9,1.2,1.5],"format":".1f","title":null,"labelOverlap":false}},"y2":{"datum":0}}},
   {"data":{"name":"act"},"transform":[{"filter":"datum.p=='Q'"}],"mark":{"type":"line","clip":true,"color":"#d7301f","strokeWidth":1.2},"encoding":{"x":{"field":"t","type":"quantitative","scale":{"domain":[-0.88,22.88],"nice":false,"zero":false}},"y":{"field":"m","type":"quantitative","scale":{"domain":[-0.06,1.56],"nice":false,"zero":false},"axis":null}}},
   {"data":{"name":"meta"},"transform":[{"filter":"datum.p=='Q'"}],"mark":{"type":"rule","color":"#d7301f","strokeWidth":1.3,"strokeDash":[2,2]},"encoding":{"x":{"field":"tpk","type":"quantitative","scale":{"domain":[-0.88,22.88],"nice":false,"zero":false}},"y":{"field":"ypk","type":"quantitative","scale":{"domain":[-0.06,1.56],"nice":false,"zero":false},"axis":null},"y2":{"datum":-0.06}}},
   {"data":{"name":"meta"},"transform":[{"filter":"datum.p=='Q'"}],"mark":{"type":"text","align":"left","baseline":"middle","fontStyle":"italic","color":"#1a1a1a","fontSize":9.5,"dx":2},"encoding":{"x":{"datum":0,"type":"quantitative","scale":{"domain":[-0.88,22.88],"nice":false,"zero":false}},"y":{"datum":1.43,"type":"quantitative","scale":{"domain":[-0.06,1.56],"nice":false,"zero":false},"axis":null},"text":{"field":"name","type":"nominal"}}},
   {"data":{"name":"meta"},"transform":[{"filter":"datum.p=='Q'"}],"mark":{"type":"text","align":"right","baseline":"middle","color":"#999999","fontSize":9.5,"dx":3},"encoding":{"x":{"datum":22,"type":"quantitative","scale":{"domain":[-0.88,22.88],"nice":false,"zero":false}},"y":{"datum":1.43,"type":"quantitative","scale":{"domain":[-0.06,1.56],"nice":false,"zero":false},"axis":null},"text":{"field":"nl","type":"nominal"}}},
   {"data":{"name":"wp"},"transform":[{"filter":"datum.p=='Q'"}],"mark":{"type":"line","clip":true,"color":"#5064dc","strokeWidth":1,"strokeDash":[2.5,2]},"encoding":{"x":{"field":"t","type":"quantitative","scale":{"domain":[-0.88,22.88],"nice":false,"zero":false}},"y":{"field":"wp","type":"quantitative","scale":{"domain":[-10.44,1.44],"nice":false,"zero":false},"axis":{"orient":"right","values":[-10,-8,-6,-4,-2,0],"labelColor":"#4b5fd6","title":null,"labelOverlap":false}}}},
   {"data":{"name":"wp"},"transform":[{"filter":"datum.p=='Q' && datum.o"}],"mark":{"type":"point","clip":false,"color":"#5064dc","filled":false,"size":22,"strokeWidth":1},"encoding":{"x":{"field":"t","type":"quantitative","scale":{"domain":[-0.88,22.88],"nice":false,"zero":false}},"y":{"field":"wp","type":"quantitative","scale":{"domain":[-10.44,1.44],"nice":false,"zero":false},"axis":null}}}
  ],
  "resolve":{"scale":{"y":"independent"}}
 },
 {"width":178,"height":112,
  "layer":[
   {"data":{"name":"cum"},"transform":[{"filter":"datum.p=='H'"}],"mark":{"type":"line","clip":true,"color":"#aaaaaa","strokeWidth":1,"strokeDash":[1,2]},"encoding":{"x":{"field":"t","type":"quantitative","scale":{"domain":[-1.8,46.8],"nice":false,"zero":false},"axis":{"values":[0,10,20,30,40],"title":null,"labelOverlap":false}},"y":{"field":"f","type":"quantitative","scale":{"domain":[-0.044,1.144],"nice":false,"zero":false},"axis":null}}},
   {"data":{"name":"act"},"transform":[{"filter":"datum.p=='H'"}],"mark":{"type":"area","clip":true,"color":"#000"},"encoding":{"x":{"field":"t","type":"quantitative","scale":{"domain":[-1.8,46.8],"nice":false,"zero":false}},"y":{"field":"lo","type":"quantitative","scale":{"domain":[-0.2,5.2],"nice":false,"zero":false},"axis":{"orient":"left","values":[0,1,2,3,4,5],"format":"d","title":null,"labelOverlap":false}},"y2":{"field":"hi"}}},
   {"data":{"name":"act"},"transform":[{"filter":"datum.p=='H'"}],"mark":{"type":"line","clip":true,"color":"#d7301f","strokeWidth":1.2},"encoding":{"x":{"field":"t","type":"quantitative","scale":{"domain":[-1.8,46.8],"nice":false,"zero":false}},"y":{"field":"m","type":"quantitative","scale":{"domain":[-0.2,5.2],"nice":false,"zero":false},"axis":null}}},
   {"data":{"name":"meta"},"transform":[{"filter":"datum.p=='H'"}],"mark":{"type":"rule","color":"#d7301f","strokeWidth":1.3,"strokeDash":[2,2]},"encoding":{"x":{"field":"tpk","type":"quantitative","scale":{"domain":[-1.8,46.8],"nice":false,"zero":false}},"y":{"field":"ypk","type":"quantitative","scale":{"domain":[-0.2,5.2],"nice":false,"zero":false},"axis":null},"y2":{"datum":-0.2}}},
   {"data":{"name":"meta"},"transform":[{"filter":"datum.p=='H'"}],"mark":{"type":"text","align":"left","baseline":"middle","fontStyle":"italic","color":"#1a1a1a","fontSize":9.5,"dx":2},"encoding":{"x":{"datum":0,"type":"quantitative","scale":{"domain":[-1.8,46.8],"nice":false,"zero":false}},"y":{"datum":4.77,"type":"quantitative","scale":{"domain":[-0.2,5.2],"nice":false,"zero":false},"axis":null},"text":{"field":"name","type":"nominal"}}},
   {"data":{"name":"meta"},"transform":[{"filter":"datum.p=='H'"}],"mark":{"type":"text","align":"right","baseline":"middle","color":"#999999","fontSize":9.5,"dx":3},"encoding":{"x":{"datum":45,"type":"quantitative","scale":{"domain":[-1.8,46.8],"nice":false,"zero":false}},"y":{"datum":4.77,"type":"quantitative","scale":{"domain":[-0.2,5.2],"nice":false,"zero":false},"axis":null},"text":{"field":"nl","type":"nominal"}}},
   {"data":{"name":"wp"},"transform":[{"filter":"datum.p=='H'"}],"mark":{"type":"line","clip":true,"color":"#5064dc","strokeWidth":1,"strokeDash":[2.5,2]},"encoding":{"x":{"field":"t","type":"quantitative","scale":{"domain":[-1.8,46.8],"nice":false,"zero":false}},"y":{"field":"wp","type":"quantitative","scale":{"domain":[-10.44,1.44],"nice":false,"zero":false},"axis":{"orient":"right","values":[-10,-8,-6,-4,-2,0],"labelColor":"#4b5fd6","title":null,"labelOverlap":false}}}},
   {"data":{"name":"wp"},"transform":[{"filter":"datum.p=='H' && datum.o"}],"mark":{"type":"point","clip":false,"color":"#5064dc","filled":false,"size":22,"strokeWidth":1},"encoding":{"x":{"field":"t","type":"quantitative","scale":{"domain":[-1.8,46.8],"nice":false,"zero":false}},"y":{"field":"wp","type":"quantitative","scale":{"domain":[-10.44,1.44],"nice":false,"zero":false},"axis":null}}}
  ],
  "resolve":{"scale":{"y":"independent"}}
 },
 {"width":178,"height":112,
  "layer":[
   {"data":{"name":"cum"},"transform":[{"filter":"datum.p=='E'"}],"mark":{"type":"line","clip":true,"color":"#aaaaaa","strokeWidth":1,"strokeDash":[1,2]},"encoding":{"x":{"field":"t","type":"quantitative","scale":{"domain":[-2.96,76.96],"nice":false,"zero":false},"axis":{"values":[0,20,40,60],"title":null,"labelOverlap":false}},"y":{"field":"f","type":"quantitative","scale":{"domain":[-0.044,1.144],"nice":false,"zero":false},"axis":null}}},
   {"data":{"name":"act"},"transform":[{"filter":"datum.p=='E'"}],"mark":{"type":"area","clip":true,"color":"#000"},"encoding":{"x":{"field":"t","type":"quantitative","scale":{"domain":[-2.96,76.96],"nice":false,"zero":false}},"y":{"field":"lo","type":"quantitative","scale":{"domain":[-1.2,31.2],"nice":false,"zero":false},"axis":{"orient":"left","values":[0,6,12,18,24,30],"format":"d","title":null,"labelOverlap":false}},"y2":{"field":"hi"}}},
   {"data":{"name":"act"},"transform":[{"filter":"datum.p=='E'"}],"mark":{"type":"line","clip":true,"color":"#d7301f","strokeWidth":1.2},"encoding":{"x":{"field":"t","type":"quantitative","scale":{"domain":[-2.96,76.96],"nice":false,"zero":false}},"y":{"field":"m","type":"quantitative","scale":{"domain":[-1.2,31.2],"nice":false,"zero":false},"axis":null}}},
   {"data":{"name":"meta"},"transform":[{"filter":"datum.p=='E'"}],"mark":{"type":"rule","color":"#d7301f","strokeWidth":1.3,"strokeDash":[2,2]},"encoding":{"x":{"field":"tpk","type":"quantitative","scale":{"domain":[-2.96,76.96],"nice":false,"zero":false}},"y":{"field":"ypk","type":"quantitative","scale":{"domain":[-1.2,31.2],"nice":false,"zero":false},"axis":null},"y2":{"datum":-1.2}}},
   {"data":{"name":"meta"},"transform":[{"filter":"datum.p=='E'"}],"mark":{"type":"text","align":"left","baseline":"middle","fontStyle":"italic","color":"#1a1a1a","fontSize":9.5,"dx":2},"encoding":{"x":{"datum":0,"type":"quantitative","scale":{"domain":[-2.96,76.96],"nice":false,"zero":false}},"y":{"datum":28.6,"type":"quantitative","scale":{"domain":[-1.2,31.2],"nice":false,"zero":false},"axis":null},"text":{"field":"name","type":"nominal"}}},
   {"data":{"name":"meta"},"transform":[{"filter":"datum.p=='E'"}],"mark":{"type":"text","align":"right","baseline":"middle","color":"#999999","fontSize":9.5,"dx":3},"encoding":{"x":{"datum":74,"type":"quantitative","scale":{"domain":[-2.96,76.96],"nice":false,"zero":false}},"y":{"datum":28.6,"type":"quantitative","scale":{"domain":[-1.2,31.2],"nice":false,"zero":false},"axis":null},"text":{"field":"nl","type":"nominal"}}},
   {"data":{"name":"wp"},"transform":[{"filter":"datum.p=='E'"}],"mark":{"type":"line","clip":true,"color":"#5064dc","strokeWidth":1,"strokeDash":[2.5,2]},"encoding":{"x":{"field":"t","type":"quantitative","scale":{"domain":[-2.96,76.96],"nice":false,"zero":false}},"y":{"field":"wp","type":"quantitative","scale":{"domain":[-10.44,1.44],"nice":false,"zero":false},"axis":{"orient":"right","values":[-10,-8,-6,-4,-2,0],"labelColor":"#4b5fd6","title":null,"labelOverlap":false}}}},
   {"data":{"name":"wp"},"transform":[{"filter":"datum.p=='E' && datum.o"}],"mark":{"type":"point","clip":false,"color":"#5064dc","filled":false,"size":22,"strokeWidth":1},"encoding":{"x":{"field":"t","type":"quantitative","scale":{"domain":[-2.96,76.96],"nice":false,"zero":false}},"y":{"field":"wp","type":"quantitative","scale":{"domain":[-10.44,1.44],"nice":false,"zero":false},"axis":null}}}
  ],
  "resolve":{"scale":{"y":"independent"}}
 },
 {"width":178,"height":112,
  "layer":[
   {"data":{"name":"cum"},"transform":[{"filter":"datum.p=='PT'"}],"mark":{"type":"line","clip":true,"color":"#aaaaaa","strokeWidth":1,"strokeDash":[1,2]},"encoding":{"x":{"field":"t","type":"quantitative","scale":{"domain":[-0.9,23.4],"nice":false,"zero":false},"axis":{"values":[0,5,10,15,20],"title":null,"labelOverlap":false}},"y":{"field":"f","type":"quantitative","scale":{"domain":[-0.044,1.144],"nice":false,"zero":false},"axis":null}}},
   {"data":{"name":"act"},"transform":[{"filter":"datum.p=='PT'"}],"mark":{"type":"area","clip":true,"color":"#000"},"encoding":{"x":{"field":"t","type":"quantitative","scale":{"domain":[-0.9,23.4],"nice":false,"zero":false}},"y":{"field":"lo","type":"quantitative","scale":{"domain":[-1.4,36.4],"nice":false,"zero":false},"axis":{"orient":"left","values":[0,7,14,21,28,35],"format":"d","title":null,"labelOverlap":false}},"y2":{"field":"hi"}}},
   {"data":{"name":"act"},"transform":[{"filter":"datum.p=='PT'"}],"mark":{"type":"line","clip":true,"color":"#d7301f","strokeWidth":1.2},"encoding":{"x":{"field":"t","type":"quantitative","scale":{"domain":[-0.9,23.4],"nice":false,"zero":false}},"y":{"field":"m","type":"quantitative","scale":{"domain":[-1.4,36.4],"nice":false,"zero":false},"axis":null}}},
   {"data":{"name":"meta"},"transform":[{"filter":"datum.p=='PT'"}],"mark":{"type":"rule","color":"#d7301f","strokeWidth":1.3,"strokeDash":[2,2]},"encoding":{"x":{"field":"tpk","type":"quantitative","scale":{"domain":[-0.9,23.4],"nice":false,"zero":false}},"y":{"field":"ypk","type":"quantitative","scale":{"domain":[-1.4,36.4],"nice":false,"zero":false},"axis":null},"y2":{"datum":-1.4}}},
   {"data":{"name":"meta"},"transform":[{"filter":"datum.p=='PT'"}],"mark":{"type":"text","align":"left","baseline":"middle","fontStyle":"italic","color":"#1a1a1a","fontSize":9.5,"dx":2},"encoding":{"x":{"datum":0,"type":"quantitative","scale":{"domain":[-0.9,23.4],"nice":false,"zero":false}},"y":{"datum":33.4,"type":"quantitative","scale":{"domain":[-1.4,36.4],"nice":false,"zero":false},"axis":null},"text":{"field":"name","type":"nominal"}}},
   {"data":{"name":"meta"},"transform":[{"filter":"datum.p=='PT'"}],"mark":{"type":"text","align":"right","baseline":"middle","color":"#999999","fontSize":9.5,"dx":3},"encoding":{"x":{"datum":22.5,"type":"quantitative","scale":{"domain":[-0.9,23.4],"nice":false,"zero":false}},"y":{"datum":33.4,"type":"quantitative","scale":{"domain":[-1.4,36.4],"nice":false,"zero":false},"axis":null},"text":{"field":"nl","type":"nominal"}}},
   {"data":{"name":"wp"},"transform":[{"filter":"datum.p=='PT'"}],"mark":{"type":"line","clip":true,"color":"#5064dc","strokeWidth":1,"strokeDash":[2.5,2]},"encoding":{"x":{"field":"t","type":"quantitative","scale":{"domain":[-0.9,23.4],"nice":false,"zero":false}},"y":{"field":"wp","type":"quantitative","scale":{"domain":[-10.44,1.44],"nice":false,"zero":false},"axis":{"orient":"right","values":[-10,-8,-6,-4,-2,0],"labelColor":"#4b5fd6","title":null,"labelOverlap":false}}}},
   {"data":{"name":"wp"},"transform":[{"filter":"datum.p=='PT' && datum.o"}],"mark":{"type":"point","clip":false,"color":"#5064dc","filled":false,"size":22,"strokeWidth":1},"encoding":{"x":{"field":"t","type":"quantitative","scale":{"domain":[-0.9,23.4],"nice":false,"zero":false}},"y":{"field":"wp","type":"quantitative","scale":{"domain":[-10.44,1.44],"nice":false,"zero":false},"axis":null}}}
  ],
  "resolve":{"scale":{"y":"independent"}}
 },
 {"width":178,"height":112,
  "layer":[
   {"data":{"name":"cum"},"transform":[{"filter":"datum.p=='V'"}],"mark":{"type":"line","clip":true,"color":"#aaaaaa","strokeWidth":1,"strokeDash":[1,2]},"encoding":{"x":{"field":"t","type":"quantitative","scale":{"domain":[-2.42,62.92],"nice":false,"zero":false},"axis":{"values":[0,10,20,30,40,50,60],"title":null,"labelOverlap":false}},"y":{"field":"f","type":"quantitative","scale":{"domain":[-0.044,1.144],"nice":false,"zero":false},"axis":null}}},
   {"data":{"name":"act"},"transform":[{"filter":"datum.p=='V'"}],"mark":{"type":"area","clip":true,"color":"#000"},"encoding":{"x":{"field":"t","type":"quantitative","scale":{"domain":[-2.42,62.92],"nice":false,"zero":false}},"y":{"field":"lo","type":"quantitative","scale":{"domain":[-2.6,67.6],"nice":false,"zero":false},"axis":{"orient":"left","values":[0,13,26,39,52,65],"format":"d","labelOverlap":false,"title":"Acoustic activity (AE min⁻¹)","titleAngle":270,"titleX":-28.5,"titleY":-4.7,"titleBaseline":"middle","titleAlign":"center"}},"y2":{"field":"hi"}}},
   {"data":{"name":"act"},"transform":[{"filter":"datum.p=='V'"}],"mark":{"type":"line","clip":true,"color":"#d7301f","strokeWidth":1.2},"encoding":{"x":{"field":"t","type":"quantitative","scale":{"domain":[-2.42,62.92],"nice":false,"zero":false}},"y":{"field":"m","type":"quantitative","scale":{"domain":[-2.6,67.6],"nice":false,"zero":false},"axis":null}}},
   {"data":{"name":"meta"},"transform":[{"filter":"datum.p=='V'"}],"mark":{"type":"rule","color":"#d7301f","strokeWidth":1.3,"strokeDash":[2,2]},"encoding":{"x":{"field":"tpk","type":"quantitative","scale":{"domain":[-2.42,62.92],"nice":false,"zero":false}},"y":{"field":"ypk","type":"quantitative","scale":{"domain":[-2.6,67.6],"nice":false,"zero":false},"axis":null},"y2":{"datum":-2.6}}},
   {"data":{"name":"meta"},"transform":[{"filter":"datum.p=='V'"}],"mark":{"type":"text","align":"left","baseline":"middle","fontStyle":"italic","color":"#1a1a1a","fontSize":9.5,"dx":2},"encoding":{"x":{"datum":0,"type":"quantitative","scale":{"domain":[-2.42,62.92],"nice":false,"zero":false}},"y":{"datum":62,"type":"quantitative","scale":{"domain":[-2.6,67.6],"nice":false,"zero":false},"axis":null},"text":{"field":"name","type":"nominal"}}},
   {"data":{"name":"meta"},"transform":[{"filter":"datum.p=='V'"}],"mark":{"type":"text","align":"right","baseline":"middle","color":"#999999","fontSize":9.5,"dx":3},"encoding":{"x":{"datum":60.5,"type":"quantitative","scale":{"domain":[-2.42,62.92],"nice":false,"zero":false}},"y":{"datum":62,"type":"quantitative","scale":{"domain":[-2.6,67.6],"nice":false,"zero":false},"axis":null},"text":{"field":"nl","type":"nominal"}}},
   {"data":{"name":"wp"},"transform":[{"filter":"datum.p=='V'"}],"mark":{"type":"line","clip":true,"color":"#5064dc","strokeWidth":1,"strokeDash":[2.5,2]},"encoding":{"x":{"field":"t","type":"quantitative","scale":{"domain":[-2.42,62.92],"nice":false,"zero":false}},"y":{"field":"wp","type":"quantitative","scale":{"domain":[-10.44,1.44],"nice":false,"zero":false},"axis":{"orient":"right","values":[-10,-8,-6,-4,-2,0],"labelColor":"#4b5fd6","title":null,"labelOverlap":false}}}},
   {"data":{"name":"wp"},"transform":[{"filter":"datum.p=='V' && datum.o"}],"mark":{"type":"point","clip":false,"color":"#5064dc","filled":false,"size":22,"strokeWidth":1},"encoding":{"x":{"field":"t","type":"quantitative","scale":{"domain":[-2.42,62.92],"nice":false,"zero":false}},"y":{"field":"wp","type":"quantitative","scale":{"domain":[-10.44,1.44],"nice":false,"zero":false},"axis":null}}}
  ],
  "resolve":{"scale":{"y":"independent"}}
 },
 {"width":178,"height":112,
  "layer":[
   {"data":{"name":"cum"},"transform":[{"filter":"datum.p=='PA'"}],"mark":{"type":"line","clip":true,"color":"#aaaaaa","strokeWidth":1,"strokeDash":[1,2]},"encoding":{"x":{"field":"t","type":"quantitative","scale":{"domain":[-3.46,89.96],"nice":false,"zero":false},"axis":{"values":[0,20,40,60,80],"title":null,"labelOverlap":false}},"y":{"field":"f","type":"quantitative","scale":{"domain":[-0.044,1.144],"nice":false,"zero":false},"axis":null}}},
   {"data":{"name":"act"},"transform":[{"filter":"datum.p=='PA'"}],"mark":{"type":"area","clip":true,"color":"#000"},"encoding":{"x":{"field":"t","type":"quantitative","scale":{"domain":[-3.46,89.96],"nice":false,"zero":false}},"y":{"field":"lo","type":"quantitative","scale":{"domain":[-7,182],"nice":false,"zero":false},"axis":{"orient":"left","values":[0,35,70,105,140,175],"format":"d","title":null,"labelOverlap":false}},"y2":{"field":"hi"}}},
   {"data":{"name":"act"},"transform":[{"filter":"datum.p=='PA'"}],"mark":{"type":"line","clip":true,"color":"#d7301f","strokeWidth":1.2},"encoding":{"x":{"field":"t","type":"quantitative","scale":{"domain":[-3.46,89.96],"nice":false,"zero":false}},"y":{"field":"m","type":"quantitative","scale":{"domain":[-7,182],"nice":false,"zero":false},"axis":null}}},
   {"data":{"name":"meta"},"transform":[{"filter":"datum.p=='PA'"}],"mark":{"type":"rule","color":"#d7301f","strokeWidth":1.3,"strokeDash":[2,2]},"encoding":{"x":{"field":"tpk","type":"quantitative","scale":{"domain":[-3.46,89.96],"nice":false,"zero":false}},"y":{"field":"ypk","type":"quantitative","scale":{"domain":[-7,182],"nice":false,"zero":false},"axis":null},"y2":{"datum":-7}}},
   {"data":{"name":"meta"},"transform":[{"filter":"datum.p=='PA'"}],"mark":{"type":"text","align":"left","baseline":"middle","fontStyle":"italic","color":"#1a1a1a","fontSize":9.5,"dx":2},"encoding":{"x":{"datum":0,"type":"quantitative","scale":{"domain":[-3.46,89.96],"nice":false,"zero":false}},"y":{"datum":167,"type":"quantitative","scale":{"domain":[-7,182],"nice":false,"zero":false},"axis":null},"text":{"field":"name","type":"nominal"}}},
   {"data":{"name":"meta"},"transform":[{"filter":"datum.p=='PA'"}],"mark":{"type":"text","align":"right","baseline":"middle","color":"#999999","fontSize":9.5,"dx":3},"encoding":{"x":{"datum":86.5,"type":"quantitative","scale":{"domain":[-3.46,89.96],"nice":false,"zero":false}},"y":{"datum":167,"type":"quantitative","scale":{"domain":[-7,182],"nice":false,"zero":false},"axis":null},"text":{"field":"nl","type":"nominal"}}},
   {"data":{"name":"wp"},"transform":[{"filter":"datum.p=='PA'"}],"mark":{"type":"line","clip":true,"color":"#5064dc","strokeWidth":1,"strokeDash":[2.5,2]},"encoding":{"x":{"field":"t","type":"quantitative","scale":{"domain":[-3.46,89.96],"nice":false,"zero":false}},"y":{"field":"wp","type":"quantitative","scale":{"domain":[-10.44,1.44],"nice":false,"zero":false},"axis":{"orient":"right","values":[-10,-8,-6,-4,-2,0],"labelColor":"#4b5fd6","labelOverlap":false,"title":"Water potential (MPa)","titleColor":"#4b5fd6","titleAngle":270,"titleX":31.5,"titleY":-4.7,"titleBaseline":"middle","titleAlign":"center"}}}},
   {"data":{"name":"wp"},"transform":[{"filter":"datum.p=='PA' && datum.o"}],"mark":{"type":"point","clip":false,"color":"#5064dc","filled":false,"size":22,"strokeWidth":1},"encoding":{"x":{"field":"t","type":"quantitative","scale":{"domain":[-3.46,89.96],"nice":false,"zero":false}},"y":{"field":"wp","type":"quantitative","scale":{"domain":[-10.44,1.44],"nice":false,"zero":false},"axis":null}}}
  ],
  "resolve":{"scale":{"y":"independent"}}
 },
 {"width":178,"height":112,
  "layer":[
   {"data":{"name":"cum"},"transform":[{"filter":"datum.p=='J'"}],"mark":{"type":"line","clip":true,"color":"#aaaaaa","strokeWidth":1,"strokeDash":[1,2]},"encoding":{"x":{"field":"t","type":"quantitative","scale":{"domain":[-4.8,124.8],"nice":false,"zero":false},"axis":{"values":[0,20,40,60,80,100,120],"labelOverlap":false,"title":"Time (h)","titleX":193,"titleY":29,"titleBaseline":"middle","titleAlign":"center"}},"y":{"field":"f","type":"quantitative","scale":{"domain":[-0.044,1.144],"nice":false,"zero":false},"axis":null}}},
   {"data":{"name":"act"},"transform":[{"filter":"datum.p=='J'"}],"mark":{"type":"area","clip":true,"color":"#000"},"encoding":{"x":{"field":"t","type":"quantitative","scale":{"domain":[-4.8,124.8],"nice":false,"zero":false}},"y":{"field":"lo","type":"quantitative","scale":{"domain":[-46,1196],"nice":false,"zero":false},"axis":{"orient":"left","values":[0,230,460,690,920,1150],"format":"d","title":null,"labelOverlap":false}},"y2":{"field":"hi"}}},
   {"data":{"name":"act"},"transform":[{"filter":"datum.p=='J'"}],"mark":{"type":"line","clip":true,"color":"#d7301f","strokeWidth":1.2},"encoding":{"x":{"field":"t","type":"quantitative","scale":{"domain":[-4.8,124.8],"nice":false,"zero":false}},"y":{"field":"m","type":"quantitative","scale":{"domain":[-46,1196],"nice":false,"zero":false},"axis":null}}},
   {"data":{"name":"meta"},"transform":[{"filter":"datum.p=='J'"}],"mark":{"type":"rule","color":"#d7301f","strokeWidth":1.3,"strokeDash":[2,2]},"encoding":{"x":{"field":"tpk","type":"quantitative","scale":{"domain":[-4.8,124.8],"nice":false,"zero":false}},"y":{"field":"ypk","type":"quantitative","scale":{"domain":[-46,1196],"nice":false,"zero":false},"axis":null},"y2":{"datum":-46}}},
   {"data":{"name":"meta"},"transform":[{"filter":"datum.p=='J'"}],"mark":{"type":"text","align":"left","baseline":"middle","fontStyle":"italic","color":"#1a1a1a","fontSize":9.5,"dx":2},"encoding":{"x":{"datum":0,"type":"quantitative","scale":{"domain":[-4.8,124.8],"nice":false,"zero":false}},"y":{"datum":1098,"type":"quantitative","scale":{"domain":[-46,1196],"nice":false,"zero":false},"axis":null},"text":{"field":"name","type":"nominal"}}},
   {"data":{"name":"meta"},"transform":[{"filter":"datum.p=='J'"}],"mark":{"type":"text","align":"right","baseline":"middle","color":"#999999","fontSize":9.5,"dx":3},"encoding":{"x":{"datum":120,"type":"quantitative","scale":{"domain":[-4.8,124.8],"nice":false,"zero":false}},"y":{"datum":1098,"type":"quantitative","scale":{"domain":[-46,1196],"nice":false,"zero":false},"axis":null},"text":{"field":"nl","type":"nominal"}}},
   {"data":{"name":"wp"},"transform":[{"filter":"datum.p=='J'"}],"mark":{"type":"line","clip":true,"color":"#5064dc","strokeWidth":1,"strokeDash":[2.5,2]},"encoding":{"x":{"field":"t","type":"quantitative","scale":{"domain":[-4.8,124.8],"nice":false,"zero":false}},"y":{"field":"wp","type":"quantitative","scale":{"domain":[-10.44,1.44],"nice":false,"zero":false},"axis":{"orient":"right","values":[-10,-8,-6,-4,-2,0],"labelColor":"#4b5fd6","title":null,"labelOverlap":false}}}},
   {"data":{"name":"wp"},"transform":[{"filter":"datum.p=='J' && datum.o"}],"mark":{"type":"point","clip":false,"color":"#5064dc","filled":false,"size":22,"strokeWidth":1},"encoding":{"x":{"field":"t","type":"quantitative","scale":{"domain":[-4.8,124.8],"nice":false,"zero":false}},"y":{"field":"wp","type":"quantitative","scale":{"domain":[-10.44,1.44],"nice":false,"zero":false},"axis":null}}}
  ],
  "resolve":{"scale":{"y":"independent"}}
 },
 {"width":178,"height":112,
  "layer":[
   {"data":{"name":"cum"},"transform":[{"filter":"datum.p=='PM'"}],"mark":{"type":"line","clip":true,"color":"#aaaaaa","strokeWidth":1,"strokeDash":[1,2]},"encoding":{"x":{"field":"t","type":"quantitative","scale":{"domain":[-8.68,225.68],"nice":false,"zero":false},"axis":{"values":[0,50,100,150,200],"title":null,"labelOverlap":false}},"y":{"field":"f","type":"quantitative","scale":{"domain":[-0.044,1.144],"nice":false,"zero":false},"axis":null}}},
   {"data":{"name":"act"},"transform":[{"filter":"datum.p=='PM'"}],"mark":{"type":"area","clip":true,"color":"#000"},"encoding":{"x":{"field":"t","type":"quantitative","scale":{"domain":[-8.68,225.68],"nice":false,"zero":false}},"y":{"field":"lo","type":"quantitative","scale":{"domain":[-1.6,41.6],"nice":false,"zero":false},"axis":{"orient":"left","values":[0,8,16,24,32,40],"format":"d","title":null,"labelOverlap":false}},"y2":{"field":"hi"}}},
   {"data":{"name":"act"},"transform":[{"filter":"datum.p=='PM'"}],"mark":{"type":"line","clip":true,"color":"#d7301f","strokeWidth":1.2},"encoding":{"x":{"field":"t","type":"quantitative","scale":{"domain":[-8.68,225.68],"nice":false,"zero":false}},"y":{"field":"m","type":"quantitative","scale":{"domain":[-1.6,41.6],"nice":false,"zero":false},"axis":null}}},
   {"data":{"name":"meta"},"transform":[{"filter":"datum.p=='PM'"}],"mark":{"type":"rule","color":"#d7301f","strokeWidth":1.3,"strokeDash":[2,2]},"encoding":{"x":{"field":"tpk","type":"quantitative","scale":{"domain":[-8.68,225.68],"nice":false,"zero":false}},"y":{"field":"ypk","type":"quantitative","scale":{"domain":[-1.6,41.6],"nice":false,"zero":false},"axis":null},"y2":{"datum":-1.6}}},
   {"data":{"name":"meta"},"transform":[{"filter":"datum.p=='PM'"}],"mark":{"type":"text","align":"left","baseline":"middle","fontStyle":"italic","color":"#1a1a1a","fontSize":9.5,"dx":2},"encoding":{"x":{"datum":0,"type":"quantitative","scale":{"domain":[-8.68,225.68],"nice":false,"zero":false}},"y":{"datum":38.2,"type":"quantitative","scale":{"domain":[-1.6,41.6],"nice":false,"zero":false},"axis":null},"text":{"field":"name","type":"nominal"}}},
   {"data":{"name":"meta"},"transform":[{"filter":"datum.p=='PM'"}],"mark":{"type":"text","align":"right","baseline":"middle","color":"#999999","fontSize":9.5,"dx":3},"encoding":{"x":{"datum":217,"type":"quantitative","scale":{"domain":[-8.68,225.68],"nice":false,"zero":false}},"y":{"datum":38.2,"type":"quantitative","scale":{"domain":[-1.6,41.6],"nice":false,"zero":false},"axis":null},"text":{"field":"nl","type":"nominal"}}},
   {"data":{"name":"wp"},"transform":[{"filter":"datum.p=='PM'"}],"mark":{"type":"line","clip":true,"color":"#5064dc","strokeWidth":1,"strokeDash":[2.5,2]},"encoding":{"x":{"field":"t","type":"quantitative","scale":{"domain":[-8.68,225.68],"nice":false,"zero":false}},"y":{"field":"wp","type":"quantitative","scale":{"domain":[-10.44,1.44],"nice":false,"zero":false},"axis":{"orient":"right","values":[-10,-8,-6,-4,-2,0],"labelColor":"#4b5fd6","title":null,"labelOverlap":false}}}},
   {"data":{"name":"wp"},"transform":[{"filter":"datum.p=='PM' && datum.o"}],"mark":{"type":"point","clip":false,"color":"#5064dc","filled":false,"size":22,"strokeWidth":1},"encoding":{"x":{"field":"t","type":"quantitative","scale":{"domain":[-8.68,225.68],"nice":false,"zero":false}},"y":{"field":"wp","type":"quantitative","scale":{"domain":[-10.44,1.44],"nice":false,"zero":false},"axis":null}}}
  ],
  "resolve":{"scale":{"y":"independent"}}
 }
]
}
